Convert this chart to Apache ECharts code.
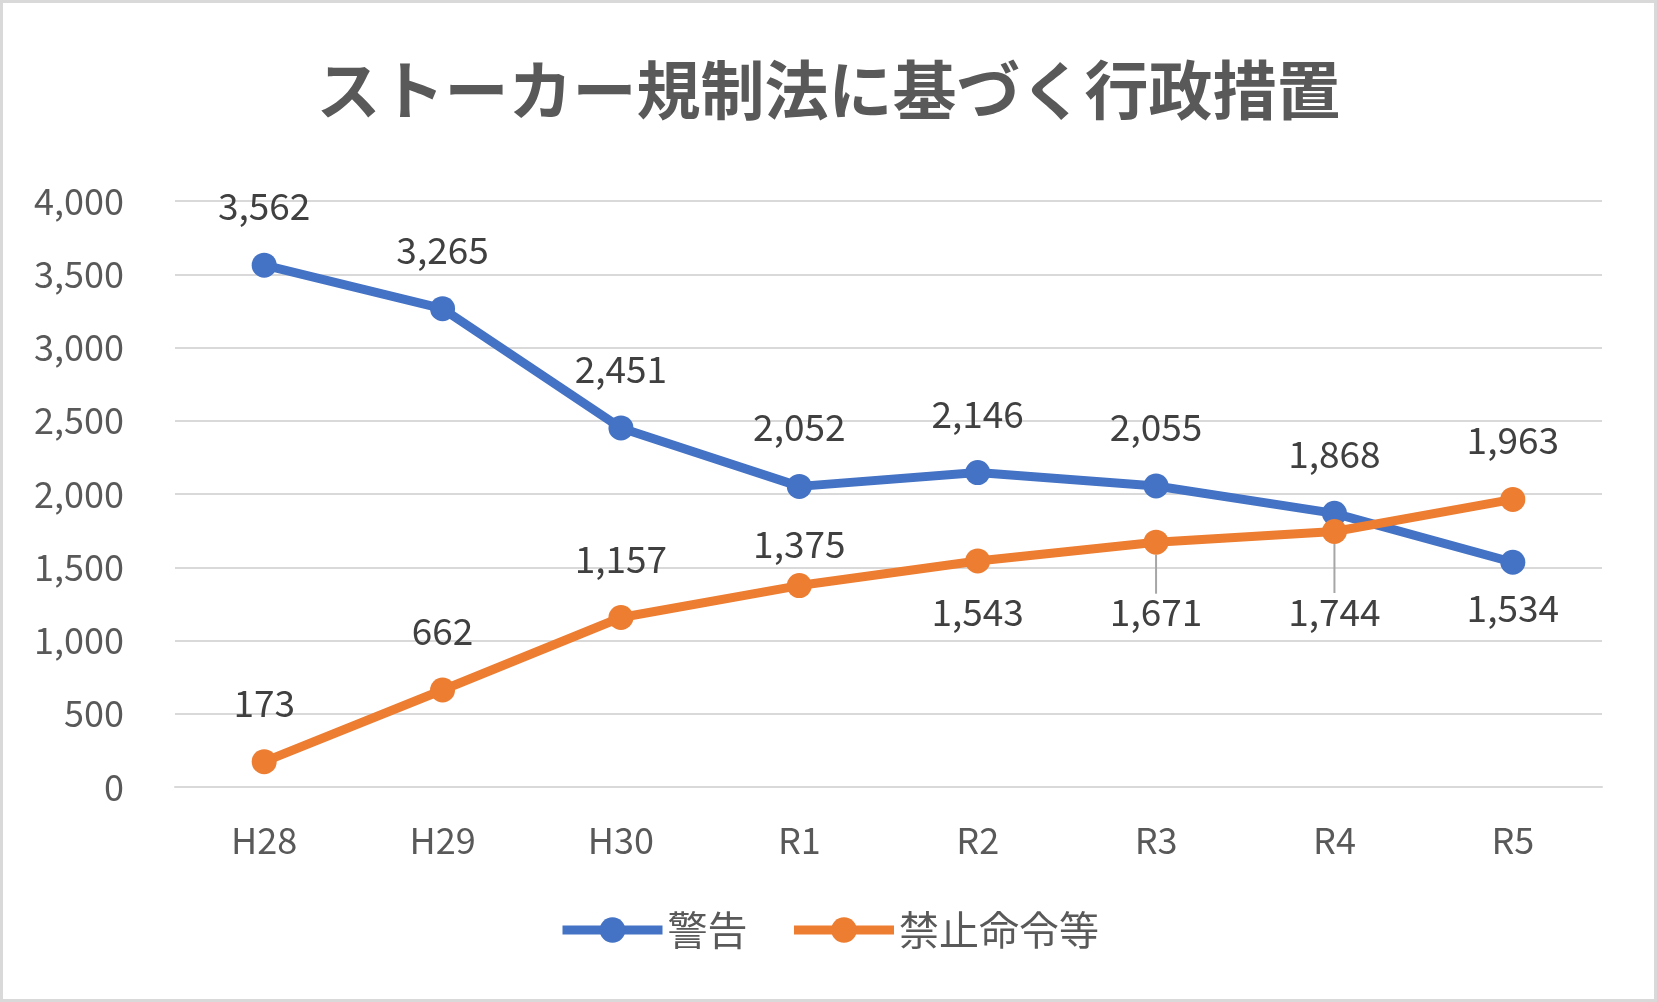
<!DOCTYPE html>
<html><head><meta charset="utf-8">
<script src="https://cdn.jsdelivr.net/npm/echarts@6/dist/echarts.min.js"></script>
<style>
html,body{margin:0;padding:0;background:#fff;}
#c{width:1657px;height:1002px;box-sizing:border-box;border:3px solid #d9d9d9;}
</style></head>
<body><div id="c"></div>
<script>
const categories = ['H28','H29','H30','R1','R2','R3','R4','R5'];
const warnings = [3562,3265,2451,2052,2146,2055,1868,1534];
const orders = [173,662,1157,1375,1543,1671,1744,1963];
const seriesNames = ['警告','禁止命令等'];
const titleText = 'ストーカー規制法に基づく行政措置';

const FONT = '"Noto Sans CJK JP", "Noto Sans", sans-serif';
const labelFont = {fontFamily: FONT, fontSize: 37, color: '#404040'};

function fmt(v){ return v.toLocaleString('en-US'); }

// label placement per point
const warnPos = warnings.map((v,i)=> i===7 ? 'bottom' : 'top');
const orderPos = orders.map((v,i)=> (i>=4 && i<=6) ? 'bottom' : 'top');

const chart = echarts.init(document.getElementById('c'));
chart.setOption({
  backgroundColor: '#fff',
  animation: false,
  title: {
    text: titleText, left: 'center', top: 50,
    textStyle: {fontFamily: FONT, fontSize: 64, fontWeight: 'bold', color: '#595959'}
  },
  legend: {
    data: seriesNames, bottom: 44, left: 'center',
    itemWidth: 100, itemHeight: 32, itemGap: 42,
    lineStyle: {width: 9},
    textStyle: {fontFamily: FONT, fontSize: 40, color: '#595959'}
  },
  grid: {left: 172, right: 52, top: 198, bottom: 212},
  xAxis: {
    type: 'category', data: categories, boundaryGap: true,
    axisLine: {lineStyle: {color: '#d9d9d9', width: 2}},
    axisTick: {show: false},
    axisLabel: {fontFamily: FONT, fontSize: 36, color: '#595959', margin: 35}
  },
  yAxis: {
    type: 'value', min: 0, max: 4000, interval: 500,
    axisLine: {show: false}, axisTick: {show: false},
    splitLine: {lineStyle: {color: '#d9d9d9', width: 2}},
    axisLabel: {fontFamily: FONT, fontSize: 36, color: '#595959', margin: 51,
      formatter: v => fmt(v)}
  },
  series: [
    {
      name: seriesNames[0], type: 'line', data: warnings.map((v,i)=>({value:v,
        label:{position: warnPos[i], distance: warnPos[i]==='top'?28:15}})),
      symbol: 'circle', symbolSize: 25,
      lineStyle: {width: 9, color: '#4472C4'},
      itemStyle: {color: '#4472C4'},
      label: {show: true, formatter: p => fmt(p.value), ...labelFont},
      z: 2
    },
    {
      name: seriesNames[1], type: 'line', data: orders.map((v,i)=>({value:v,
        label:{position: orderPos[i], distance: orderPos[i]==='top'?(i===3?11:28):20},
        labelLine:{show: i===5 || i===6}})),
      symbol: 'circle', symbolSize: 25,
      lineStyle: {width: 9, color: '#ED7D31'},
      itemStyle: {color: '#ED7D31'},
      label: {show: true, formatter: p => fmt(p.value), ...labelFont},
      labelLine: {lineStyle: {color: '#a6a6a6', width: 2}},
      labelLayout: function(params){
        if (params.seriesIndex === 1 && params.dataIndex === 5) return {dy: 19};
        if (params.seriesIndex === 1 && params.dataIndex === 6) return {dy: 29};
        return {};
      },
      z: 3
    }
  ]
});
</script></body></html>
